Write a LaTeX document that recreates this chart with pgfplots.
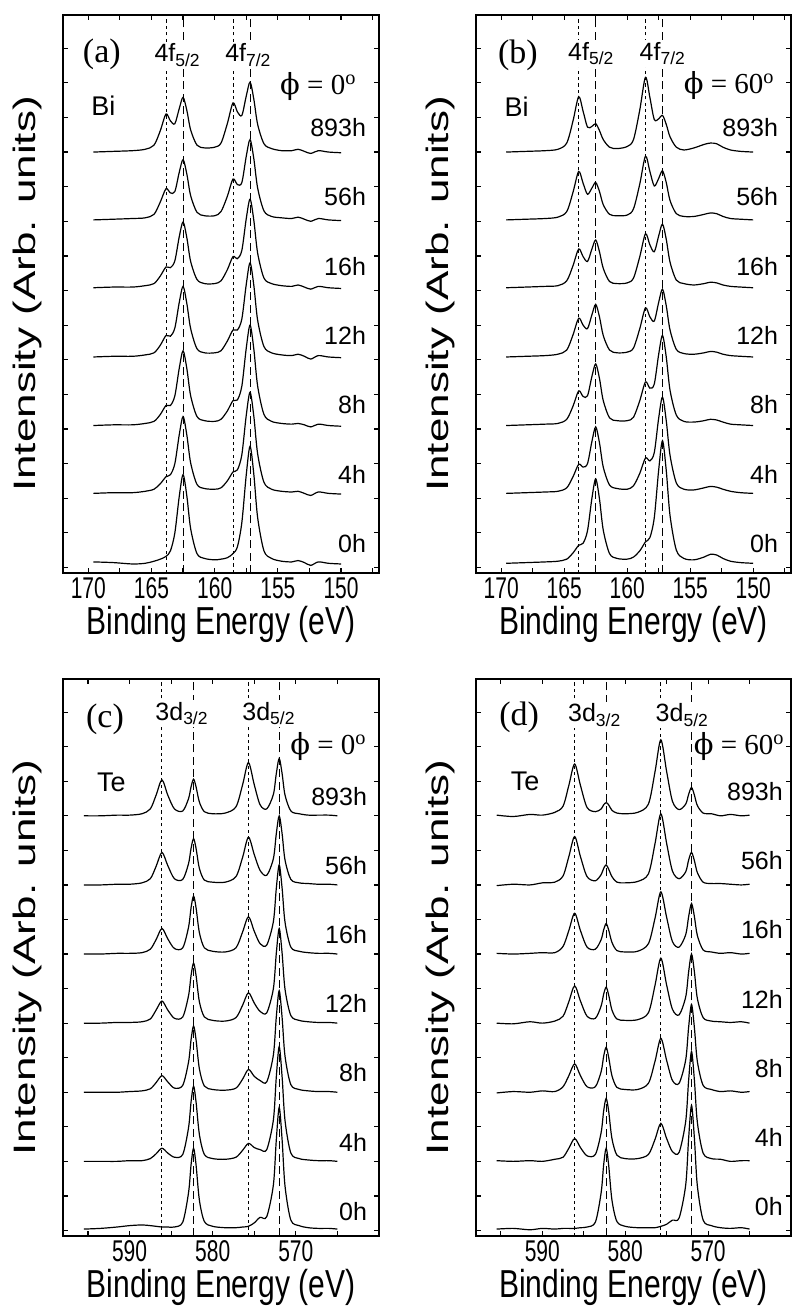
\documentclass[border=0pt]{standalone}
\usepackage{fontspec}
\setmainfont{Liberation Sans}
\newfontfamily\tickfont{Liberation Sans}[FakeStretch=0.7]
\newfontfamily\xlabfont{Liberation Sans}[FakeStretch=0.77]
\newfontfamily\ylabfont{Liberation Sans}[FakeStretch=1.42]
\newfontfamily\serif{Liberation Serif}
\newfontfamily\phifont{DejaVu Serif}
\usepackage{pgfplots}
\usepackage{pgfplotstable}
\pgfplotsset{compat=1.18}

\newcommand\phival[1]{{\serif\fontsize{14.5}{14.5}\selectfont{\phifont ϕ} = #1\textsuperscript{o}}}
\newcommand\lbl{\fontsize{12.5}{13}\selectfont}
\newcommand\elt{\fontsize{13.5}{14}\selectfont}
\newcommand\pan{\serif\fontsize{17}{17}\selectfont}

\pgfplotstableread{
x s0 s1 s2 s3 s4 s5 s6
169.6 0.02 0.00 0.00 0.00 0.00 0.00 0.00
168.0 0.01 0.01 0.01 0.01 0.01 0.01 0.01
166.5 -0.01 0.01 0.01 0.01 0.01 0.02 0.02
165.5 0.00 0.03 0.03 0.03 0.03 0.03 0.04
164.8 0.03 0.06 0.06 0.06 0.06 0.08 0.10
164.3 0.06 0.14 0.16 0.17 0.17 0.26 0.31
163.85 0.10 0.24 0.29 0.31 0.30 0.45 0.55
163.5 0.18 0.27 0.29 0.30 0.29 0.39 0.45
163.15 0.44 0.43 0.43 0.42 0.39 0.41 0.41
162.8 0.97 0.85 0.83 0.79 0.74 0.69 0.63
162.5 1.28 1.11 1.08 1.02 0.95 0.87 0.79
162.2 0.97 0.84 0.82 0.77 0.72 0.66 0.60
161.9 0.50 0.44 0.43 0.41 0.38 0.35 0.32
161.4 0.14 0.13 0.13 0.12 0.12 0.11 0.10
160.8 0.07 0.07 0.07 0.06 0.06 0.06 0.06
160.0 0.05 0.06 0.06 0.06 0.06 0.06 0.07
159.5 0.06 0.08 0.09 0.09 0.10 0.12 0.13
159.0 0.08 0.18 0.21 0.23 0.26 0.34 0.41
158.55 0.14 0.31 0.36 0.39 0.45 0.59 0.71
158.2 0.24 0.34 0.37 0.39 0.42 0.51 0.58
157.85 0.59 0.56 0.57 0.55 0.54 0.54 0.53
157.5 1.28 1.13 1.12 1.05 1.00 0.92 0.81
157.2 1.69 1.46 1.45 1.36 1.28 1.16 1.01
156.9 1.28 1.11 1.10 1.03 0.97 0.88 0.76
156.6 0.66 0.57 0.57 0.53 0.50 0.46 0.40
156.1 0.18 0.16 0.16 0.15 0.14 0.13 0.12
155.5 0.07 0.06 0.06 0.06 0.06 0.05 0.05
154.7 0.03 0.03 0.03 0.03 0.03 0.03 0.02
153.9 0.02 0.02 0.02 0.02 0.02 0.02 0.02
153.4 0.04 0.03 0.03 0.04 0.04 0.04 0.04
152.9 0.01 0.00 0.01 0.01 0.01 0.01 0.01
152.4 -0.03 -0.03 -0.02 -0.03 -0.02 -0.02 -0.02
151.8 0.02 0.02 0.02 0.02 0.02 0.02 0.02
151.0 0.00 0.00 0.00 0.00 0.00 0.00 0.00
150.0 -0.01 -0.01 -0.01 -0.01 -0.01 -0.01 -0.01
}\bia

\pgfplotstableread{
x s0 s1 s2 s3 s4 s5 s6
169.6 0.00 0.00 0.00 0.00 0.00 0.00 0.00
168.0 0.01 0.01 0.01 0.01 0.01 0.01 0.01
166.5 0.02 0.02 0.02 0.02 0.02 0.02 0.02
165.5 0.03 0.03 0.03 0.04 0.03 0.04 0.04
164.8 0.06 0.08 0.09 0.10 0.10 0.12 0.13
164.3 0.15 0.24 0.28 0.32 0.32 0.40 0.45
163.85 0.26 0.42 0.50 0.56 0.56 0.70 0.80
163.5 0.29 0.38 0.42 0.46 0.45 0.53 0.59
163.15 0.47 0.43 0.43 0.41 0.38 0.37 0.36
162.8 0.94 0.75 0.71 0.61 0.56 0.46 0.37
162.5 1.22 0.96 0.89 0.76 0.69 0.54 0.41
162.2 0.93 0.73 0.68 0.58 0.52 0.41 0.31
161.9 0.48 0.38 0.36 0.31 0.28 0.22 0.18
161.4 0.14 0.12 0.11 0.10 0.09 0.08 0.07
160.8 0.07 0.07 0.07 0.06 0.06 0.06 0.05
160.0 0.06 0.06 0.07 0.07 0.07 0.07 0.08
159.5 0.09 0.11 0.12 0.13 0.14 0.16 0.18
159.0 0.18 0.29 0.36 0.41 0.45 0.52 0.61
158.55 0.31 0.51 0.63 0.71 0.78 0.92 1.08
158.2 0.37 0.47 0.54 0.58 0.62 0.70 0.79
157.85 0.66 0.59 0.60 0.52 0.52 0.49 0.47
157.5 1.35 1.09 1.03 0.79 0.75 0.60 0.48
157.2 1.77 1.39 1.30 0.98 0.92 0.71 0.53
156.9 1.34 1.05 0.99 0.74 0.70 0.54 0.40
156.6 0.69 0.55 0.51 0.39 0.37 0.28 0.22
156.1 0.19 0.15 0.15 0.11 0.11 0.09 0.07
155.5 0.07 0.06 0.06 0.05 0.06 0.05 0.03
154.7 0.05 0.05 0.05 0.04 0.04 0.05 0.06
153.9 0.09 0.08 0.07 0.06 0.06 0.08 0.11
153.4 0.13 0.10 0.09 0.08 0.08 0.10 0.13
152.9 0.12 0.09 0.08 0.07 0.07 0.09 0.12
152.4 0.07 0.06 0.05 0.04 0.04 0.05 0.07
151.8 0.03 0.03 0.02 0.02 0.02 0.02 0.03
151.0 0.01 0.01 0.01 0.01 0.01 0.01 0.01
150.0 0.00 0.00 0.00 0.00 0.00 0.00 0.00
}\bib

\pgfplotstableread{
x s0 s1 s2 s3 s4 s5 s6
595.5 0.00 0.00 0.00 0.00 0.00 0.00 0.00
593.5 0.01 0.00 0.00 0.00 0.00 0.00 0.00
591.5 0.03 0.00 0.00 0.01 0.01 0.01 0.01
590.0 0.05 0.01 0.01 0.01 0.01 0.01 0.01
588.5 0.06 0.01 0.02 0.02 0.02 0.03 0.03
587.5 0.05 0.04 0.05 0.06 0.07 0.09 0.10
586.8 0.04 0.11 0.14 0.19 0.21 0.27 0.30
586.1 0.03 0.19 0.24 0.32 0.37 0.47 0.52
585.4 0.03 0.12 0.15 0.19 0.22 0.28 0.30
584.6 0.03 0.06 0.06 0.07 0.08 0.09 0.10
583.6 0.10 0.10 0.10 0.09 0.09 0.08 0.07
582.9 0.53 0.49 0.44 0.40 0.39 0.31 0.25
582.6 0.93 0.86 0.76 0.69 0.67 0.53 0.42
582.3 1.17 1.09 0.96 0.87 0.84 0.67 0.53
582.0 0.93 0.86 0.76 0.69 0.67 0.53 0.42
581.6 0.42 0.39 0.34 0.31 0.31 0.24 0.20
581.0 0.11 0.10 0.09 0.09 0.09 0.07 0.06
580.0 0.04 0.04 0.04 0.04 0.04 0.04 0.03
578.5 0.02 0.03 0.03 0.03 0.03 0.04 0.04
577.2 0.02 0.06 0.06 0.08 0.09 0.12 0.13
576.4 0.03 0.16 0.19 0.26 0.32 0.40 0.45
575.7 0.04 0.26 0.33 0.44 0.54 0.69 0.77
575.0 0.09 0.20 0.23 0.29 0.33 0.44 0.45
574.3 0.17 0.17 0.17 0.17 0.15 0.21 0.16
573.5 0.18 0.17 0.15 0.15 0.13 0.14 0.10
572.7 0.64 0.60 0.54 0.50 0.47 0.38 0.31
572.35 1.29 1.22 1.09 1.01 0.95 0.74 0.61
572.0 1.76 1.66 1.47 1.37 1.29 1.00 0.83
571.65 1.29 1.22 1.08 1.01 0.95 0.74 0.61
571.3 0.62 0.59 0.52 0.49 0.46 0.36 0.30
570.6 0.13 0.12 0.11 0.11 0.10 0.08 0.07
569.6 0.05 0.04 0.04 0.04 0.04 0.03 0.03
568.5 0.02 0.02 0.02 0.02 0.02 0.02 0.01
567.3 0.01 0.01 0.01 0.01 0.01 0.01 0.01
566.0 0.01 0.01 0.01 0.01 0.01 0.01 0.01
565.0 0.00 0.00 0.00 0.00 0.00 0.00 0.00
}\tec

\pgfplotstableread{
x s0 s1 s2 s3 s4 s5 s6
595.5 0.00 0.01 -0.01 0.00 0.01 -0.01 0.01
593.5 0.01 0.00 0.01 -0.01 0.00 0.01 -0.01
591.5 -0.01 0.01 0.00 0.02 0.01 0.00 0.02
590.0 0.01 0.00 0.02 0.00 0.02 0.03 0.01
588.5 0.00 0.03 0.01 0.03 0.02 0.04 0.05
587.5 0.01 0.06 0.08 0.10 0.11 0.13 0.14
586.8 0.01 0.19 0.24 0.31 0.34 0.41 0.44
586.1 0.01 0.33 0.41 0.54 0.59 0.70 0.75
585.4 0.02 0.20 0.24 0.32 0.34 0.41 0.44
584.6 0.03 0.08 0.08 0.10 0.10 0.12 0.12
583.6 0.10 0.10 0.08 0.07 0.07 0.06 0.06
582.9 0.53 0.42 0.30 0.25 0.21 0.15 0.10
582.6 0.93 0.73 0.52 0.42 0.35 0.24 0.16
582.3 1.17 0.91 0.65 0.52 0.44 0.29 0.19
582.0 0.93 0.73 0.51 0.41 0.35 0.23 0.16
581.6 0.42 0.33 0.24 0.19 0.17 0.12 0.08
581.0 0.11 0.09 0.07 0.06 0.05 0.04 0.04
580.0 0.04 0.04 0.04 0.04 0.03 0.03 0.03
578.5 0.02 0.04 0.04 0.05 0.04 0.05 0.05
577.2 0.02 0.10 0.13 0.15 0.15 0.16 0.17
576.4 0.02 0.32 0.45 0.55 0.52 0.60 0.64
575.7 0.04 0.55 0.78 0.94 0.90 1.03 1.10
575.0 0.07 0.33 0.46 0.55 0.53 0.60 0.64
574.3 0.13 0.14 0.17 0.20 0.18 0.20 0.21
573.5 0.16 0.13 0.13 0.12 0.10 0.09 0.09
572.7 0.64 0.58 0.47 0.38 0.28 0.19 0.17
572.35 1.31 1.17 0.94 0.74 0.54 0.36 0.31
572.0 1.79 1.59 1.27 1.00 0.73 0.47 0.41
571.65 1.31 1.17 0.93 0.74 0.54 0.35 0.30
571.3 0.63 0.57 0.45 0.36 0.27 0.18 0.15
570.6 0.13 0.12 0.10 0.08 0.06 0.04 0.04
569.6 0.05 0.04 0.04 0.03 0.03 0.02 0.03
568.5 0.02 0.03 0.01 0.02 0.01 0.02 0.00
567.3 0.01 0.00 0.02 0.01 0.02 0.01 0.02
566.0 0.02 0.01 0.00 0.02 0.00 0.00 0.00
565.0 0.00 0.01 0.01 0.00 0.01 0.01 0.01
}\ted

\pgfplotsset{
  panel/.style={
    scale only axis, width=158pt, height=279pt,
    x dir=reverse, ymin=-0.08, ymax=7.98,
    ytick={0,0.5,...,7.5}, yticklabels={},
    tick align=inside, major tick length=2.5pt, minor tick length=2.5pt,
    axis line style={line width=0.9pt},
    tick style={black, line width=0.6pt},
    xticklabel style={font=\tickfont\fontsize{15}{15}\selectfont, inner sep=0pt, yshift=-2pt},
    /pgf/number format/assume math mode=true,
    xlabel={Binding Energy (eV)}, ylabel={Intensity (Arb. units)},
    every axis x label/.style={at={(axis description cs:0.5,0)}, anchor=north, yshift=-16.5pt, inner sep=0pt, font=\xlabfont\fontsize{19.5}{19.5}\selectfont},
    every axis y label/.style={at={(axis description cs:-0.112,0.5)}, rotate=90, anchor=center, inner sep=0pt, font=\ylabfont\fontsize{15.5}{15.5}\selectfont},
  },
  bi/.style={xmin=147, xmax=172, xtick={150,155,160,165,170}, minor xtick={147.5,152.5,157.5,162.5,167.5}},
  te/.style={xmin=560, xmax=598, xtick={570,580,590}, minor xtick={565,575,585,595}},
  spec/.style={black, line width=0.6pt, smooth, tension=0.5},
  ox/.style={black, line width=0.5pt, dash pattern=on 1.6pt off 1.6pt},
  met/.style={black, line width=0.5pt, dash pattern=on 4pt off 2.2pt},
}

\begin{document}
\begin{tikzpicture}
\useasboundingbox (0,0) rectangle (396pt,653.5pt);

% ---------- (a)
\begin{axis}[panel, bi, at={(31.5pt,367pt)}, anchor=south west]
\addplot[ox] coordinates {(163.85,-0.08) (163.85,7.98)};
\addplot[ox] coordinates {(158.55,-0.08) (158.55,7.98)};
\addplot[met] coordinates {(162.5,-0.08) (162.5,7.98)};
\addplot[met] coordinates {(157.2,-0.08) (157.2,7.98)};
\addplot[spec] table[x=x, y expr=\thisrow{s0}+0.06] {\bia};
\addplot[spec] table[x=x, y expr=\thisrow{s1}+1.07] {\bia};
\addplot[spec] table[x=x, y expr=\thisrow{s2}+2.05] {\bia};
\addplot[spec] table[x=x, y expr=\thisrow{s3}+3.04] {\bia};
\addplot[spec] table[x=x, y expr=\thisrow{s4}+4.04] {\bia};
\addplot[spec] table[x=x, y expr=\thisrow{s5}+5.02] {\bia};
\addplot[spec] table[x=x, y expr=\thisrow{s6}+6] {\bia};
\node[font=\pan] at (axis description cs:0.123,0.930) {(a)};
\node[font=\elt] at (axis description cs:0.128,0.837) {Bi};
\node[anchor=east, inner sep=0pt] at (axis description cs:0.930,0.871) {\phival{0}};
\node[anchor=base west, fill=white, inner sep=1pt, font=\lbl] at (axis description cs:0.282,0.916) {4f\textsubscript{5/2}};
\node[anchor=base west, fill=white, inner sep=1pt, font=\lbl] at (axis description cs:0.506,0.916) {4f\textsubscript{7/2}};
\node[anchor=east, inner sep=0pt, font=\lbl] at (axis cs:148.0,6.35) {893h};
\node[anchor=east, inner sep=0pt, font=\lbl] at (axis cs:148.0,5.35) {56h};
\node[anchor=east, inner sep=0pt, font=\lbl] at (axis cs:148.0,4.35) {16h};
\node[anchor=east, inner sep=0pt, font=\lbl] at (axis cs:148.0,3.35) {12h};
\node[anchor=east, inner sep=0pt, font=\lbl] at (axis cs:148.0,2.35) {8h};
\node[anchor=east, inner sep=0pt, font=\lbl] at (axis cs:148.0,1.35) {4h};
\node[anchor=east, inner sep=0pt, font=\lbl] at (axis cs:148.0,0.35) {0h};
\end{axis}

% ---------- (b)
\begin{axis}[panel, bi, width=157.5pt, at={(238pt,367pt)}, anchor=south west,
  every axis y label/.style={at={(axis description cs:-0.114,0.5)}, rotate=90, anchor=center, inner sep=0pt, font=\ylabfont\fontsize{15.5}{15.5}\selectfont}]
\addplot[ox] coordinates {(163.85,-0.08) (163.85,7.98)};
\addplot[ox] coordinates {(158.55,-0.08) (158.55,7.98)};
\addplot[met] coordinates {(162.5,-0.08) (162.5,7.98)};
\addplot[met] coordinates {(157.2,-0.08) (157.2,7.98)};
\addplot[spec] table[x=x, y expr=\thisrow{s0}+0.06] {\bib};
\addplot[spec] table[x=x, y expr=\thisrow{s1}+1.07] {\bib};
\addplot[spec] table[x=x, y expr=\thisrow{s2}+2.05] {\bib};
\addplot[spec] table[x=x, y expr=\thisrow{s3}+3.04] {\bib};
\addplot[spec] table[x=x, y expr=\thisrow{s4}+4.04] {\bib};
\addplot[spec] table[x=x, y expr=\thisrow{s5}+5.02] {\bib};
\addplot[spec] table[x=x, y expr=\thisrow{s6}+6] {\bib};
\node[font=\pan] at (axis description cs:0.133,0.928) {(b)};
\node[font=\elt] at (axis description cs:0.129,0.836) {Bi};
\node[anchor=east, inner sep=0pt] at (axis description cs:0.949,0.873) {\phival{60}};
\node[anchor=base west, fill=white, inner sep=1pt, font=\lbl] at (axis description cs:0.285,0.919) {4f\textsubscript{5/2}};
\node[anchor=base west, fill=white, inner sep=1pt, font=\lbl] at (axis description cs:0.512,0.919) {4f\textsubscript{7/2}};
\node[anchor=east, inner sep=0pt, font=\lbl] at (axis cs:148.0,6.35) {893h};
\node[anchor=east, inner sep=0pt, font=\lbl] at (axis cs:148.0,5.35) {56h};
\node[anchor=east, inner sep=0pt, font=\lbl] at (axis cs:148.0,4.35) {16h};
\node[anchor=east, inner sep=0pt, font=\lbl] at (axis cs:148.0,3.35) {12h};
\node[anchor=east, inner sep=0pt, font=\lbl] at (axis cs:148.0,2.35) {8h};
\node[anchor=east, inner sep=0pt, font=\lbl] at (axis cs:148.0,1.35) {4h};
\node[anchor=east, inner sep=0pt, font=\lbl] at (axis cs:148.0,0.35) {0h};
\end{axis}

% ---------- (c)
\begin{axis}[panel, te, height=278.5pt, at={(31.5pt,35.5pt)}, anchor=south west]
\addplot[ox] coordinates {(586.1,-0.08) (586.1,7.98)};
\addplot[ox] coordinates {(575.7,-0.08) (575.7,7.98)};
\addplot[met] coordinates {(582.3,-0.08) (582.3,7.98)};
\addplot[met] coordinates {(572.0,-0.08) (572.0,7.98)};
\addplot[spec] table[x=x, y expr=\thisrow{s0}+0.02] {\tec};
\addplot[spec] table[x=x, y expr=\thisrow{s1}+1] {\tec};
\addplot[spec] table[x=x, y expr=\thisrow{s2}+2] {\tec};
\addplot[spec] table[x=x, y expr=\thisrow{s3}+3] {\tec};
\addplot[spec] table[x=x, y expr=\thisrow{s4}+4] {\tec};
\addplot[spec] table[x=x, y expr=\thisrow{s5}+5] {\tec};
\addplot[spec] table[x=x, y expr=\thisrow{s6}+6] {\tec};
\node[font=\pan] at (axis description cs:0.133,0.927) {(c)};
\node[font=\elt] at (axis description cs:0.153,0.815) {Te};
\node[anchor=east, inner sep=0pt] at (axis description cs:0.962,0.878) {\phival{0}};
\node[anchor=base west, fill=white, inner sep=1pt, font=\lbl] at (axis description cs:0.285,0.926) {3d\textsubscript{3/2}};
\node[anchor=base west, fill=white, inner sep=1pt, font=\lbl] at (axis description cs:0.560,0.926) {3d\textsubscript{5/2}};
\node[anchor=east, inner sep=0pt, font=\lbl] at (axis cs:561.4,6.28) {893h};
\node[anchor=east, inner sep=0pt, font=\lbl] at (axis cs:561.4,5.28) {56h};
\node[anchor=east, inner sep=0pt, font=\lbl] at (axis cs:561.4,4.28) {16h};
\node[anchor=east, inner sep=0pt, font=\lbl] at (axis cs:561.4,3.28) {12h};
\node[anchor=east, inner sep=0pt, font=\lbl] at (axis cs:561.4,2.28) {8h};
\node[anchor=east, inner sep=0pt, font=\lbl] at (axis cs:561.4,1.28) {4h};
\node[anchor=east, inner sep=0pt, font=\lbl] at (axis cs:561.4,0.28) {0h};
\end{axis}

% ---------- (d)
\begin{axis}[panel, te, width=157.5pt, height=278.5pt, at={(238pt,35.5pt)}, anchor=south west,
  every axis y label/.style={at={(axis description cs:-0.114,0.5)}, rotate=90, anchor=center, inner sep=0pt, font=\ylabfont\fontsize{15.5}{15.5}\selectfont}]
\addplot[ox] coordinates {(586.1,-0.08) (586.1,7.98)};
\addplot[ox] coordinates {(575.7,-0.08) (575.7,7.98)};
\addplot[met] coordinates {(582.3,-0.08) (582.3,7.98)};
\addplot[met] coordinates {(572.0,-0.08) (572.0,7.98)};
\addplot[spec] table[x=x, y expr=\thisrow{s0}+0.02] {\ted};
\addplot[spec] table[x=x, y expr=\thisrow{s1}+1] {\ted};
\addplot[spec] table[x=x, y expr=\thisrow{s2}+2] {\ted};
\addplot[spec] table[x=x, y expr=\thisrow{s3}+3] {\ted};
\addplot[spec] table[x=x, y expr=\thisrow{s4}+4] {\ted};
\addplot[spec] table[x=x, y expr=\thisrow{s5}+5] {\ted};
\addplot[spec] table[x=x, y expr=\thisrow{s6}+6] {\ted};
\node[font=\pan] at (axis description cs:0.137,0.932) {(d)};
\node[font=\elt] at (axis description cs:0.156,0.817) {Te};
\node[anchor=east, inner sep=0pt] at (axis description cs:0.981,0.878) {\phival{60}};
\node[anchor=base west, fill=white, inner sep=1pt, font=\lbl] at (axis description cs:0.285,0.923) {3d\textsubscript{3/2}};
\node[anchor=base west, fill=white, inner sep=1pt, font=\lbl] at (axis description cs:0.563,0.923) {3d\textsubscript{5/2}};
\node[anchor=east, inner sep=0pt, font=\lbl] at (axis cs:560.95,6.35) {893h};
\node[anchor=east, inner sep=0pt, font=\lbl] at (axis cs:560.95,5.35) {56h};
\node[anchor=east, inner sep=0pt, font=\lbl] at (axis cs:560.95,4.35) {16h};
\node[anchor=east, inner sep=0pt, font=\lbl] at (axis cs:560.95,3.35) {12h};
\node[anchor=east, inner sep=0pt, font=\lbl] at (axis cs:560.95,2.35) {8h};
\node[anchor=east, inner sep=0pt, font=\lbl] at (axis cs:560.95,1.35) {4h};
\node[anchor=east, inner sep=0pt, font=\lbl] at (axis cs:560.95,0.35) {0h};
\end{axis}
\end{tikzpicture}
\end{document}
